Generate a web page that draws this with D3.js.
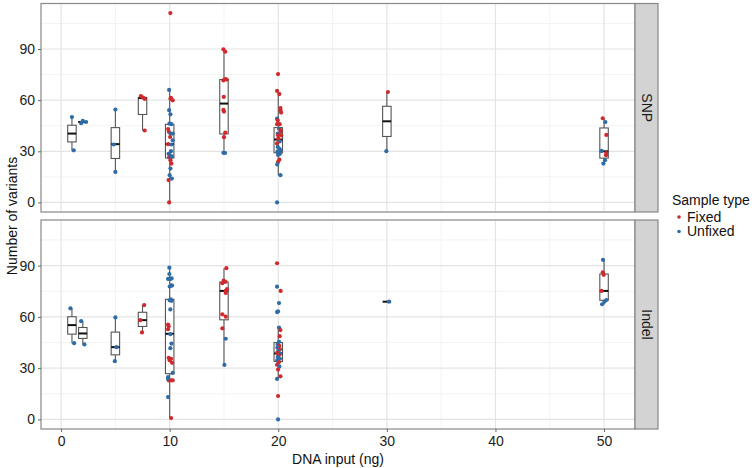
<!DOCTYPE html>
<html><head><meta charset="utf-8">
<script src="https://cdn.jsdelivr.net/npm/d3@7/dist/d3.min.js"></script>
<style>body{margin:0;background:#fff}svg{display:block}text{font-family:"Liberation Sans",Arial,Helvetica,sans-serif}</style>
</head><body><svg id="c" width="755" height="468"></svg>
<script>
const xTicks = [0,10,20,30,40,50];
const yTicks = [0,30,60,90];
const facets = ["SNP","Indel"];
const sampleTypes = ["Fixed","Unfixed"];
const typeColors = ["#cf2a2d","#2f6ca6"];

// points: [DNA input (with jitter), number of variants, type F/U]
const snpPoints = [
 [1.0,50.1,"U"],[1.16,30.6,"U"],
 [1.85,46.5,"U"],[2.0,47.8,"U"],[2.3,47.2,"U"],
 [5.0,54.5,"U"],[4.85,34.0,"U"],[5.0,17.9,"U"],
 [7.35,62.4,"F"],[7.55,61.5,"F"],[7.7,60.7,"F"],[7.7,42.2,"F"],
 [10.06,111.1,"F"],[9.95,66.0,"U"],[10.07,60.9,"F"],[10.28,59.9,"F"],[10.12,61.3,"F"],[9.95,54.1,"U"],[10.07,51.7,"U"],
 [9.98,46.2,"U"],[10.16,45.9,"U"],[9.86,43.1,"F"],[9.92,41.4,"F"],[10.07,40.4,"U"],[10.28,40.4,"U"],[10.04,38.4,"F"],
 [10.28,36.5,"U"],[9.86,34.2,"F"],[10.16,34.0,"U"],[10.12,30.1,"U"],[9.9,28.5,"U"],[10.0,27.8,"U"],[10.2,27.0,"U"],
 [9.95,26.5,"F"],[10.07,26.2,"U"],[10.07,24.8,"F"],[10.16,22.8,"F"],[10.07,19.9,"U"],[10.0,16.0,"U"],[9.9,13.1,"F"],
 [10.2,14.0,"U"],[9.95,0,"F"],
 [14.95,89.8,"F"],[15.12,88.4,"F"],[15.12,72.4,"F"],[15.25,72.1,"F"],[14.95,71.6,"F"],[14.98,61.9,"F"],[14.95,54.3,"F"],
 [15.0,53.3,"F"],[15.12,41.0,"F"],[15.0,38.3,"F"],[14.95,29.1,"U"],[15.1,29.0,"U"],
 [19.98,75.3,"F"],[19.89,65.4,"F"],[20.1,63.6,"F"],[20.2,55.4,"F"],[20.2,54.1,"F"],[20.26,52.7,"F"],[19.89,49.2,"U"],
 [19.95,48.2,"F"],[19.89,45.9,"F"],[20.13,45.9,"F"],[20.07,43.3,"U"],[20.2,41.4,"F"],[19.95,40.4,"U"],[19.98,39.4,"F"],
 [20.26,39.4,"F"],[20.07,36.5,"F"],[20.13,35.8,"U"],[19.89,34.6,"F"],[19.95,32.6,"U"],[20.1,31.5,"U"],[20.2,30.5,"U"],
 [19.92,29.8,"U"],[20.05,29.2,"U"],[20.15,28.5,"U"],[19.98,27.9,"U"],[20.1,25.1,"F"],[19.98,23.8,"F"],[19.9,22.3,"U"],
 [20.2,16.0,"U"],[19.89,0,"U"],[20.0,37.5,"F"],[20.2,42.5,"F"],
 [30.1,64.8,"F"],[29.95,30.1,"U"],
 [49.88,49.4,"F"],[50.12,47.2,"U"],[50.21,39.6,"F"],[49.78,30.2,"U"],[50.18,27.7,"F"],[50.2,29.0,"F"],[50.09,24.8,"U"],[49.94,22.8,"U"]
];
const indelPoints = [
 [0.86,65.0,"U"],[1.2,44.6,"U"],
 [1.85,57.5,"U"],[2.15,43.9,"U"],
 [5.0,59.7,"U"],[5.1,42.3,"U"],[4.95,34.1,"U"],
 [7.65,66.9,"F"],[7.3,58.1,"F"],[7.45,50.9,"F"],
 [9.97,88.8,"U"],[9.97,85.1,"U"],[9.85,82.2,"U"],[10.06,82.2,"U"],[10.18,82.5,"U"],[10.13,78.5,"U"],[10.0,77.8,"U"],
 [10.22,78.3,"U"],[10.0,69.7,"U"],[10.18,69.4,"U"],[10.1,70.3,"U"],[10.06,64.4,"U"],[9.85,55.5,"F"],[9.91,54.5,"F"],
 [9.85,52.8,"F"],[10.06,49.9,"U"],[10.16,44.4,"U"],[10.06,41.7,"U"],[9.91,36.0,"F"],[10.13,35.5,"F"],[10.0,34.6,"F"],
 [10.22,33.1,"F"],[10.28,27.2,"U"],[9.85,24.8,"U"],[9.91,22.9,"F"],[10.13,22.9,"F"],[10.28,22.9,"F"],[9.85,23.8,"U"],
 [9.85,13.1,"U"],[10.13,0.8,"F"],
 [15.22,88.5,"F"],[14.97,81.2,"F"],[14.85,79.7,"F"],[15.13,80.5,"F"],[15.28,76.3,"F"],[15.16,75.3,"F"],[15.16,74.0,"F"],
 [14.85,61.5,"F"],[15.16,60.1,"F"],[14.85,53.3,"F"],[15.16,47.2,"U"],[15.04,31.9,"U"],
 [19.89,91.4,"F"],[19.89,77.7,"U"],[20.22,75.2,"F"],[20.07,68.1,"U"],[19.89,62.8,"U"],[19.98,63.2,"U"],[20.07,53.8,"U"],
 [20.2,52.3,"F"],[20.13,48.7,"F"],[20.07,45.4,"U"],[19.95,44.0,"U"],[20.1,43.0,"F"],[19.92,42.0,"U"],[20.15,41.0,"F"],
 [20.0,40.0,"U"],[19.9,39.0,"F"],[20.2,38.5,"U"],[20.05,37.5,"F"],[19.95,36.5,"U"],[20.15,35.5,"U"],[19.9,34.5,"U"],
 [20.05,33.5,"F"],[19.89,32.0,"F"],[20.1,31.0,"U"],[19.98,29.2,"F"],[20.2,25.2,"F"],[19.89,23.7,"U"],[19.98,13.7,"F"],
 [19.98,0,"U"],
 [30.2,68.9,"U"],
 [49.9,93.4,"U"],[49.88,86.1,"F"],[49.97,84.6,"F"],[49.78,75.2,"F"],[50.21,69.9,"U"],[50.03,68.9,"U"],[49.82,67.4,"U"]
];
// boxes: [DNA input, lower whisker, q1, median, q3, upper whisker]
const snpBoxes = [
 [1,30.6,35.5,40.4,45.3,50.1],[2,46.5,46.9,47.2,47.5,47.8],[5,17.9,25.8,34.2,43.9,54.5],[7.5,42.2,51.6,61.2,61.6,62.4],
 [10,0,26.1,34.2,45.8,66.0],[15,29.0,40.2,58.0,72.1,89.8],[20,16.0,29.1,36.9,43.9,65.4],[30,30.1,38.7,47.6,56.4,64.8],
 [50,22.8,26.0,30.0,43.7,49.4]
];
const indelBoxes = [
 [1,44.6,49.9,55.2,60.1,65.0],[2,43.9,47.4,50.3,53.8,57.5],[5,34.1,37.8,42.3,51.1,59.7],[7.5,50.9,54.4,58.1,62.7,66.9],
 [10,0.8,26.8,50.1,70.3,88.8],[15,31.9,58.3,75.2,80.4,88.5],[20,23.7,33.9,38.6,45.0,53.8],[30,68.9,68.9,68.9,68.9,68.9],
 [50,67.4,69.7,75.2,85.1,93.4]
];

const svg = d3.select("#c");
const L = 41, R = 635, stripW = 23;
const FS = 14;
const panels = [{top:3.5, bottom:212, pts:snpPoints, boxes:snpBoxes, name:facets[0]},
                {top:220, bottom:429, pts:indelPoints, boxes:indelBoxes, name:facets[1]}];
const x = d3.scaleLinear().domain([-1.85,52.85]).range([L,R]);
const boxW = 0.78;
const color = t => t === "F" ? typeColors[0] : typeColors[1];
const xMinor = [5,15,25,35,45];
const yMinor = [15,45,75,105];

panels.forEach((p,i) => {
  const y = d3.scaleLinear().domain([-5.6,116.7]).range([p.bottom,p.top]);
  const g = svg.append("g");
  g.append("rect").attr("x",L).attr("y",p.top).attr("width",R-L).attr("height",p.bottom-p.top).attr("fill","#fff");
  g.selectAll(".ymin").data(yMinor).join("line").attr("x1",L).attr("x2",R)
    .attr("y1",d=>y(d)).attr("y2",d=>y(d)).attr("stroke","#f2f2f2").attr("stroke-width",0.9);
  g.selectAll(".xmin").data(xMinor).join("line").attr("y1",p.top).attr("y2",p.bottom)
    .attr("x1",d=>x(d)).attr("x2",d=>x(d)).attr("stroke","#f2f2f2").attr("stroke-width",0.9);
  g.selectAll(".ymaj").data(yTicks).join("line").attr("x1",L).attr("x2",R)
    .attr("y1",d=>y(d)).attr("y2",d=>y(d)).attr("stroke","#e4e4e4").attr("stroke-width",1.2);
  g.selectAll(".xmaj").data(xTicks).join("line").attr("y1",p.top).attr("y2",p.bottom)
    .attr("x1",d=>x(d)).attr("x2",d=>x(d)).attr("stroke","#e4e4e4").attr("stroke-width",1.2);
  const bg = g.append("g");
  p.boxes.forEach(b => {
    const [bx,lo,q1,med,q3,hi] = b;
    const x0 = x(bx - boxW/2), x1 = x(bx + boxW/2), xc = x(bx);
    bg.append("line").attr("x1",xc).attr("x2",xc).attr("y1",y(hi)).attr("y2",y(q3)).attr("stroke","#555").attr("stroke-width",1.1);
    bg.append("line").attr("x1",xc).attr("x2",xc).attr("y1",y(q1)).attr("y2",y(lo)).attr("stroke","#555").attr("stroke-width",1.1);
    bg.append("rect").attr("x",x0).attr("y",y(q3)).attr("width",x1-x0).attr("height",Math.max(0,y(q1)-y(q3)))
      .attr("fill","#fff").attr("stroke","#555").attr("stroke-width",1.1);
    bg.append("line").attr("x1",x0).attr("x2",x1).attr("y1",y(med)).attr("y2",y(med)).attr("stroke","#111").attr("stroke-width",2);
  });
  g.selectAll("circle.pt").data(p.pts).join("circle").attr("class","pt")
    .attr("cx",d=>x(d[0])).attr("cy",d=>y(d[1])).attr("r",2.1).attr("fill",d=>color(d[2]));
  g.append("rect").attr("x",L).attr("y",p.top).attr("width",R-L).attr("height",p.bottom-p.top)
    .attr("fill","none").attr("stroke","#888").attr("stroke-width",1.2);
  g.append("rect").attr("x",R).attr("y",p.top).attr("width",stripW).attr("height",p.bottom-p.top)
    .attr("fill","#d3d3d3").attr("stroke","#888").attr("stroke-width",1.2);
  const sy = (p.top+p.bottom)/2, sx = R + stripW/2;
  g.append("text").attr("transform",`translate(${sx},${sy}) rotate(90)`).attr("text-anchor","middle")
    .attr("dy","0.35em").attr("font-size",FS).attr("fill","#1a1a1a").text(p.name);
  const yAxis = d3.axisLeft(y).tickValues(yTicks).tickSize(3).tickPadding(3);
  const ya = g.append("g").attr("transform",`translate(${L},0)`).call(yAxis);
  ya.select(".domain").remove();
  ya.selectAll("line").attr("stroke","#666");
  ya.selectAll("text").attr("font-size",FS).attr("fill","#222").style("font-family",'"Liberation Sans",Arial,sans-serif');
});

const xAxis = d3.axisBottom(x).tickValues(xTicks).tickSize(3).tickPadding(4);
const xa = svg.append("g").attr("transform",`translate(0,429)`).call(xAxis);
xa.select(".domain").remove();
xa.selectAll("line").attr("stroke","#666");
xa.selectAll("text").attr("font-size",FS).attr("fill","#222").style("font-family",'"Liberation Sans",Arial,sans-serif');

svg.append("text").attr("x",(L+R)/2).attr("y",464).attr("text-anchor","middle").attr("font-size",FS)
  .attr("fill","#111").text("DNA input (ng)");
svg.append("text").attr("transform","translate(12,216) rotate(-90)").attr("text-anchor","middle")
  .attr("dy","0.35em").attr("font-size",FS).attr("fill","#111").text("Number of variants");

const lg = svg.append("g");
lg.append("text").attr("x",672).attr("y",205).attr("font-size",FS).attr("fill","#111").text("Sample type");
sampleTypes.forEach((t,i) => {
  lg.append("circle").attr("cx",679).attr("cy",217+i*14.5).attr("r",1.8).attr("fill",typeColors[i]);
  lg.append("text").attr("x",687).attr("y",221.5+i*14.5).attr("font-size",FS).attr("fill","#111").text(t);
});
</script></body></html>
